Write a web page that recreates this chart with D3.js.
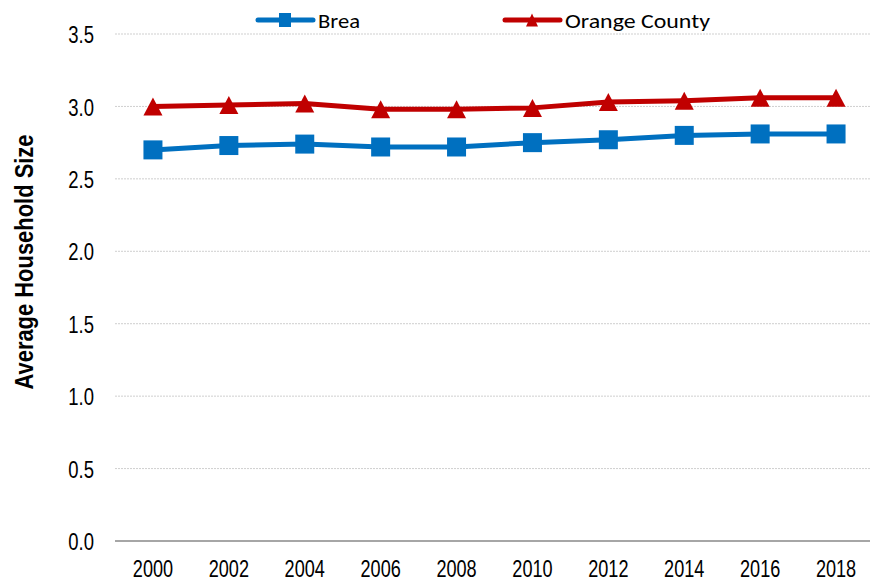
<!DOCTYPE html>
<html><head><meta charset="utf-8">
<script src="https://cdn.jsdelivr.net/npm/d3@7"></script>
<style>body{margin:0;background:#fff}svg{display:block}</style>
</head><body>
<svg id="c" width="870" height="582"></svg>
<script>
const years = ["2000","2002","2004","2006","2008","2010","2012","2014","2016","2018"];
const brea = [2.70,2.73,2.74,2.72,2.72,2.75,2.77,2.80,2.81,2.81];
const orangeCounty = [3.00,3.01,3.02,2.98,2.98,2.99,3.03,3.04,3.06,3.06];
const yTicks = [0,0.5,1.0,1.5,2.0,2.5,3.0,3.5];
const seriesNames = ["Brea","Orange County"];
const seriesColors = ["#0070C0","#C00000"];

const svg = d3.select("#c");
const pLeft = 115, pRight = 874, pTop = 34, pBottom = 541;
const x = d3.scaleBand().domain(years).range([pLeft, pRight]);
const y = d3.scaleLinear().domain([0, 3.5]).range([pBottom, pTop]);
const tickFont = "'Liberation Sans',Arial,sans-serif";
const squeeze = "scale(0.77,1)";

// gridlines
svg.append("g").selectAll("line").data(yTicks.filter(d=>d>0)).join("line")
  .attr("x1", pLeft).attr("x2", 870).attr("y1", d=>y(d)).attr("y2", d=>y(d))
  .attr("stroke", "#cfcfcf").attr("stroke-width", 1).attr("stroke-dasharray", "2,1");
svg.append("line").attr("x1", pLeft).attr("x2", 870).attr("y1", y(0)).attr("y2", y(0))
  .attr("stroke", "#a6a6a6").attr("stroke-width", 2);

// y axis labels
const ya = svg.append("g").attr("transform", `translate(94,0)`)
  .call(d3.axisLeft(y).tickValues(yTicks).tickFormat(d3.format(".1f")).tickSize(0).tickPadding(0));
ya.select(".domain").remove();
ya.selectAll("text").attr("x", 0).attr("dy", "0.36em").attr("font-family", tickFont).attr("font-size", 24)
  .attr("fill", "#000").attr("transform", squeeze);

// x axis labels
const xa = svg.append("g").attr("transform", `translate(0,577)`)
  .call(d3.axisBottom(x).tickSize(0).tickPadding(0));
xa.select(".domain").remove();
xa.selectAll("text").attr("y", 0).attr("dy", 0).attr("font-family", tickFont).attr("font-size", 23.5)
  .attr("fill", "#000").attr("transform", squeeze);

// y title
svg.append("text").attr("transform", `translate(33,262) rotate(-90)`)
  .attr("text-anchor", "middle").attr("font-family", tickFont).attr("font-weight", "bold")
  .attr("font-size", 25).attr("textLength", 255).attr("lengthAdjust", "spacingAndGlyphs")
  .text("Average Household Size");

const cx = d => x(d) + x.bandwidth()/2;
const line = d3.line().x((d,i)=>cx(years[i])).y(d=>y(d));
const triPath = (w,h) => `M0,${-h/2}L${w/2},${h/2}L${-w/2},${h/2}Z`;

// Orange County
svg.append("path").datum(orangeCounty).attr("d", line).attr("fill","none")
  .attr("stroke", seriesColors[1]).attr("stroke-width", 5).attr("stroke-linejoin","round");
svg.append("g").selectAll("path").data(orangeCounty).join("path")
  .attr("d", triPath(19,18)).attr("transform", (d,i)=>`translate(${cx(years[i])},${y(d)})`).attr("fill", seriesColors[1]);

// Brea
svg.append("path").datum(brea).attr("d", line).attr("fill","none")
  .attr("stroke", seriesColors[0]).attr("stroke-width", 5).attr("stroke-linejoin","round");
svg.append("g").selectAll("rect").data(brea).join("rect")
  .attr("x", (d,i)=>cx(years[i])-9.5).attr("y", d=>y(d)-9.5).attr("width", 19).attr("height", 19)
  .attr("fill", seriesColors[0]);

// legend
const legFont = "Carlito,Lato,'Open Sans',sans-serif";
const legX = [258, 505];
const legW = [42, 145];
seriesNames.forEach((n,i)=>{
  const g = svg.append("g").attr("transform", `translate(${legX[i]},20)`);
  g.append("line").attr("x1",0).attr("x2",55).attr("y1",0).attr("y2",0)
    .attr("stroke", seriesColors[i]).attr("stroke-width",5).attr("stroke-linecap","round");
  if (i===0) g.append("rect").attr("x",21).attr("y",-7).attr("width",12).attr("height",14).attr("fill",seriesColors[i]);
  else g.append("path").attr("d", triPath(12,13)).attr("transform","translate(27,0)").attr("fill",seriesColors[i]);
  g.append("text").attr("x",60).attr("y",7.5).attr("font-family",legFont).attr("font-size",21)
    .attr("textLength", legW[i]).attr("lengthAdjust","spacingAndGlyphs").text(n);
});
</script>
</body></html>
